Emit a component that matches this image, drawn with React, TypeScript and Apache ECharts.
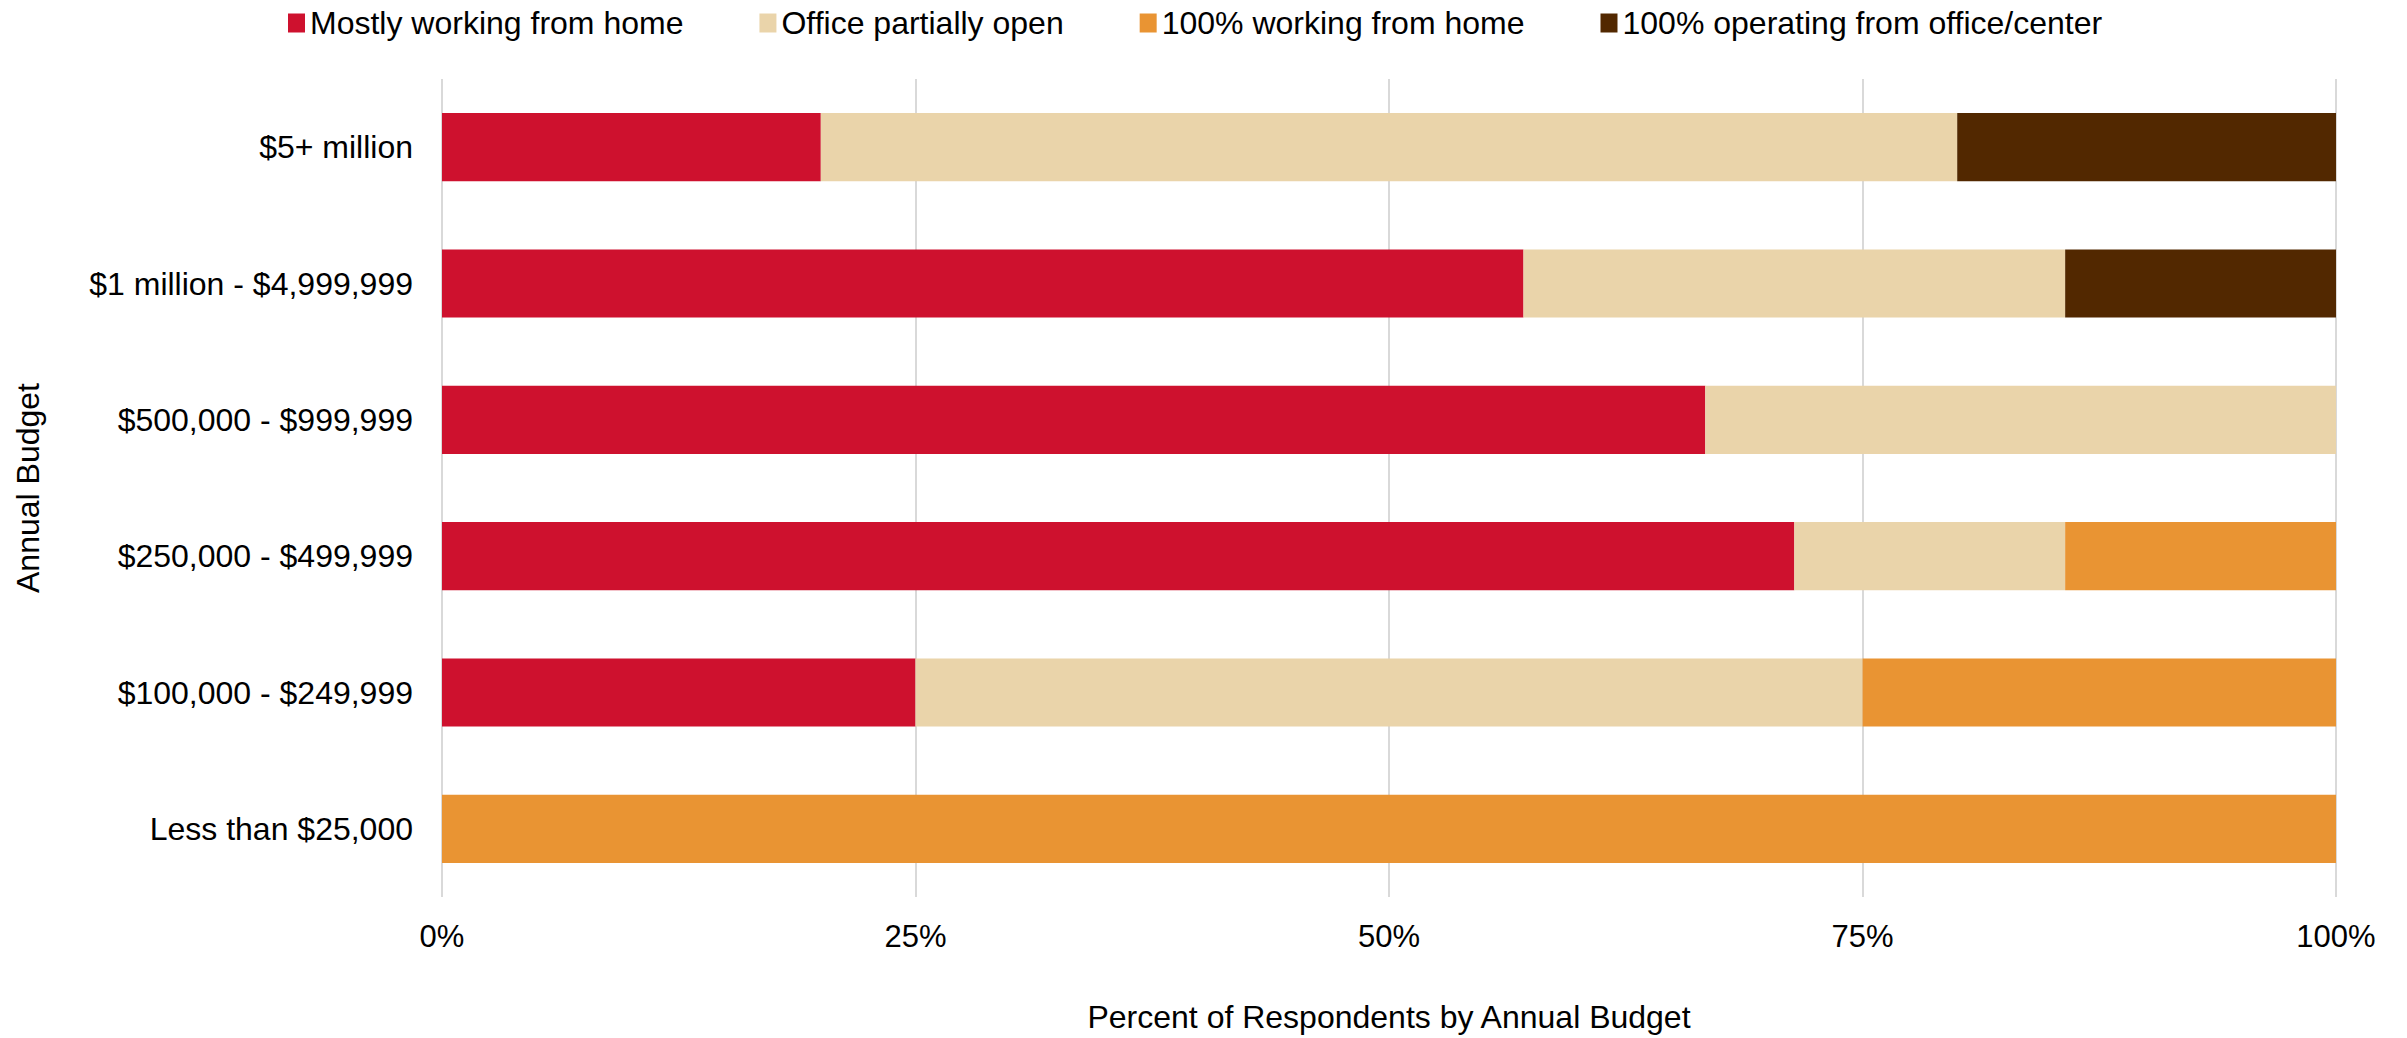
import React, { useEffect, useRef } from "react";
import * as echarts from "echarts";

const categories = [
  "$5+ million",
  "$1 million - $4,999,999",
  "$500,000 - $999,999",
  "$250,000 - $499,999",
  "$100,000 - $249,999",
  "Less than $25,000",
];
const seriesNames = [
  "Mostly working from home",
  "Office partially open",
  "100% working from home",
  "100% operating from office/center",
];
const mostlyHome = [20, 57.1, 66.7, 71.4, 25, 0];
const partiallyOpen = [60, 28.6, 33.3, 14.3, 50, 0];
const fullHome = [0, 0, 0, 14.3, 25, 100];
const fullOffice = [20, 14.3, 0, 0, 0, 0];
const colors = ["#CE112E", "#EAD4AA", "#E99433", "#522800"];
const xTicks = [0, 25, 50, 75, 100];

const FONT = "'Liberation Sans', Arial, sans-serif";

export default function App() {
  const ref = useRef<HTMLDivElement>(null);
  useEffect(() => {
    if (!ref.current) return;
    const chart = echarts.init(ref.current, null, { renderer: "svg" });
    const values = [mostlyHome, partiallyOpen, fullHome, fullOffice];
    chart.setOption({
      animation: false,
      backgroundColor: "#ffffff",
      textStyle: { fontFamily: FONT, color: "#000" },
      legend: {
        top: 2,
        left: 283,
        icon: "rect",
        itemWidth: 17,
        itemHeight: 19,
        itemGap: 76,
        textStyle: { fontFamily: FONT, fontSize: 32, color: "#000" },
        data: seriesNames,
      },
      grid: { left: 442, right: 71, top: 79, bottom: 139, containLabel: false },
      xAxis: {
        type: "value",
        min: xTicks[0],
        max: xTicks[xTicks.length - 1],
        interval: 25,
        name: "Percent of Respondents by Annual Budget",
        nameLocation: "middle",
        nameGap: 104,
        nameTextStyle: { fontFamily: FONT, fontSize: 32, color: "#000" },
        axisLine: { show: false },
        axisTick: { show: false },
        axisLabel: {
          formatter: "{value}%",
          fontFamily: FONT,
          fontSize: 31,
          color: "#000",
          margin: 24,
        },
        splitLine: { show: true, lineStyle: { color: "#D9D9D9", width: 2 } },
      },
      yAxis: {
        type: "category",
        inverse: true,
        data: categories,
        name: "Annual Budget",
        nameLocation: "middle",
        nameRotate: 90,
        nameGap: 398,
        nameTextStyle: { fontFamily: FONT, fontSize: 32, color: "#000" },
        axisLine: { show: false },
        axisTick: { show: false },
        axisLabel: { fontFamily: FONT, fontSize: 32, color: "#000", margin: 29 },
        splitLine: { show: false },
      },
      series: seriesNames.map((name, i) => ({
        name,
        type: "bar",
        stack: "total",
        barWidth: "50%",
        data: values[i],
        itemStyle: { color: colors[i] },
        emphasis: { disabled: true },
      })),
    });
    return () => chart.dispose();
  }, []);
  return (
    <div
      ref={ref}
      style={{ position: "fixed", left: 0, top: 0, width: 2407, height: 1038 }}
    />
  );
}
